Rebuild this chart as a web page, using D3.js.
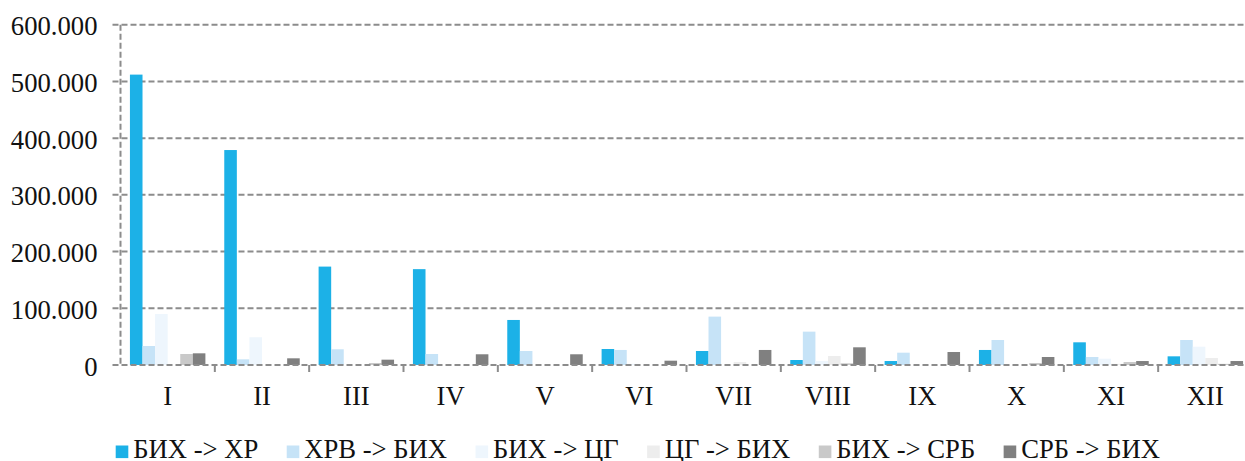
<!DOCTYPE html>
<html>
<head>
<meta charset="utf-8">
<script src="https://cdn.jsdelivr.net/npm/d3@7"></script>
<style>
  html, body { margin: 0; padding: 0; background: #fff; overflow: hidden; }
  text { font-family: "Liberation Serif", "Times New Roman", serif; fill: #111; }
</style>
</head>
<body>
<svg id="chart" width="1245" height="461"></svg>
<script>
const categories = ["I","II","III","IV","V","VI","VII","VIII","IX","X","XI","XII"];
const seriesNames = ["БИХ -> ХР","ХРВ -> БИХ","БИХ -> ЦГ","ЦГ -> БИХ","БИХ -> СРБ","СРБ -> БИХ"];
const bihToHr   = [512000, 379000, 173500, 169000, 79400, 28200, 24700, 8800, 7000, 26500, 40000, 15300];
const hrvToBih  = [33500, 10000, 27700, 19400, 24700, 26500, 85300, 58800, 21700, 44100, 14100, 44100];
const bihToCg   = [90000, 48900, 0, 0, 0, 2000, 0, 7000, 0, 0, 11100, 32300];
const cgToBih   = [0, 0, 0, 0, 0, 0, 5300, 15900, 0, 0, 2000, 12400];
const bihToSrb  = [19400, 0, 3500, 0, 0, 0, 0, 3000, 0, 3500, 5300, 2000];
const srbToBih  = [20600, 11800, 9400, 18900, 18900, 7600, 26500, 31200, 22900, 14100, 7000, 7000];
const yTicks = [0, 100000, 200000, 300000, 400000, 500000, 600000];
const yTickLabels = ["0","100.000","200.000","300.000","400.000","500.000","600.000"];
const colors = ["#1CB1E7","#C6E3F7","#EEF6FD","#EDEDED","#C9C9C9","#808080"];

const seriesValues = [bihToHr, hrvToBih, bihToCg, cgToBih, bihToSrb, srbToBih];

const svg = d3.select("#chart");
const pLeft = 120.5, pRight = 1252.5, pTop = 24.7, pBottom = 365;
const gridColor = "#8c8c8c";
const FONT = '"Liberation Serif", "Times New Roman", serif';
const FS = 26.67;

const y = d3.scaleLinear().domain([0, 600000]).range([pBottom, pTop]);
const x0 = d3.scaleBand().domain(categories).range([pLeft, pRight]).padding(0);
const bw = x0.bandwidth();
const barW = bw / 7.5;
const x1 = d3.scaleBand().domain(seriesNames).range([barW * 0.75, bw - barW * 0.75]).padding(0);

// gridlines
svg.append("g").selectAll("line").data(yTicks.filter(d => d > 0)).join("line")
  .attr("x1", pLeft - 8).attr("x2", 1245)
  .attr("y1", d => y(d)).attr("y2", d => y(d))
  .attr("stroke", gridColor).attr("stroke-width", 2).attr("stroke-dasharray", "6,3");

// bars
const groups = svg.append("g").selectAll("g").data(categories).join("g")
  .attr("transform", c => `translate(${x0(c)},0)`);
groups.selectAll("rect")
  .data((c, i) => seriesNames.map((s, k) => ({ s, k, v: seriesValues[k][i] })))
  .join("rect")
  .attr("x", d => x1(d.s))
  .attr("width", x1.bandwidth())
  .attr("y", d => y(d.v))
  .attr("height", d => pBottom - y(d.v))
  .attr("fill", d => colors[d.k]);

// axes lines
svg.append("line").attr("x1", pLeft).attr("x2", pLeft).attr("y1", pTop).attr("y2", pBottom)
  .attr("stroke", gridColor).attr("stroke-width", 2).attr("stroke-dasharray", "6,3");
svg.append("line").attr("x1", pLeft - 8).attr("x2", 1245).attr("y1", pBottom).attr("y2", pBottom)
  .attr("stroke", gridColor).attr("stroke-width", 2).attr("stroke-dasharray", "6,3");

// y axis labels
const yAxis = d3.axisLeft(y).tickValues(yTicks).tickFormat((d, i) => yTickLabels[i]).tickSize(0).tickPadding(0);
const ya = svg.append("g").attr("transform", `translate(${pLeft - 23},0)`).call(yAxis);
ya.select(".domain").remove();
ya.attr("font-family", null);
ya.selectAll("text").attr("font-size", FS).style("font-family", FONT).attr("fill", "#111").attr("dy", "0.38em");

// x axis
const xAxis = d3.axisBottom(x0).tickSize(0).tickPadding(0);
const xa = svg.append("g").attr("transform", `translate(0,${pBottom})`).call(xAxis);
xa.select(".domain").remove();
xa.attr("font-family", null);
xa.selectAll("text").attr("font-size", FS).style("font-family", FONT).attr("fill", "#111").attr("dy", 0).attr("y", 40);
// tick marks between categories
svg.append("g").selectAll("line").data(categories.slice(1)).join("line")
  .attr("x1", c => x0(c)).attr("x2", c => x0(c))
  .attr("y1", pBottom).attr("y2", pBottom + 7)
  .attr("stroke", gridColor).attr("stroke-width", 2);

// legend
const leg = svg.append("g");
let lx = 115.7;
seriesNames.forEach((s, k) => {
  leg.append("rect").attr("x", lx).attr("y", 445.5).attr("width", 12.6).attr("height", 12.6).attr("fill", colors[k]);
  const t = leg.append("text").attr("x", lx + 17.5).attr("y", 458).attr("font-size", FS).style("font-family", FONT).text(s);
  lx += 17.5 + t.node().getComputedTextLength() + 28.4;
});
</script>
</body>
</html>
